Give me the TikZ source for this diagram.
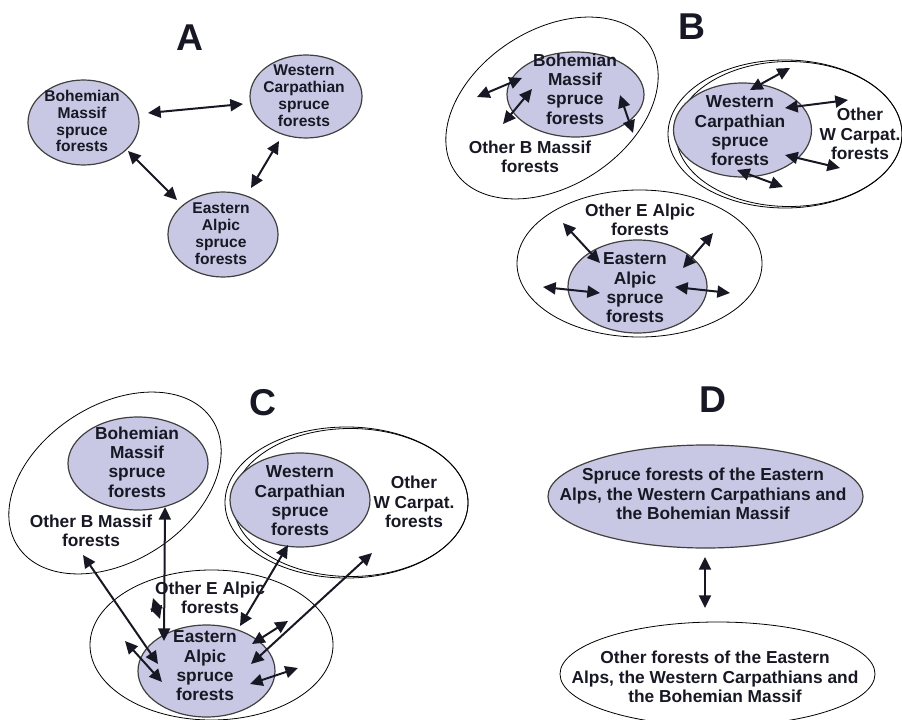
\documentclass[tikz,border=0pt]{standalone}
\usepackage{fontspec}
\setmainfont{Liberation Sans}
\usetikzlibrary{shapes.geometric,arrows.meta}
\definecolor{lav}{RGB}{200,200,228}
\definecolor{ink}{RGB}{24,24,36}
\begin{document}
\begin{tikzpicture}[x=0.75pt,y=-0.75pt,
  ell/.style 2 args={ellipse, minimum width=#1*1.5pt, minimum height=#2*1.5pt, inner sep=0pt, outer sep=0pt},
  outerell/.style={draw=black, line width=0.6pt},
  spruce/.style={draw=black!75, line width=0.9pt, fill=lav},
  lbl/.style={font=\fontsize{13}{14.5}\selectfont\bfseries, align=center, text=ink, inner sep=0pt},
  lblA/.style={font=\fontsize{11.7}{12.7}\selectfont\bfseries, align=center, text=ink, inner sep=0pt},
  title/.style={font=\fontsize{28}{30}\selectfont\bfseries, text=ink, inner sep=0pt},
  dbl/.style={{Triangle[length=9.5pt,width=9pt]}-{Triangle[length=9.5pt,width=9pt]}, line width=1.5pt, draw=ink}
]
\useasboundingbox (0,0) rectangle (902,720);

% ---------------- titles
\node[title] (tA) at (190,38) {A};
\node[title] (tB) at (692,27) {B};
\node[title] (tC) at (263,403) {C};
\node[title] (tD) at (713,400) {D};

% ---------------- panel A
\node[ell={55.5}{42.5}, spruce] (bA) at (83.5,122.5) {};
\node[ell={56}{41.5}, spruce] (wA) at (306,96.5) {};
\node[ell={55}{42.5}, spruce] (eA) at (223,234.5) {};
\node[lblA] (bAt) at (82,121) {Bohemian\\Massif\\spruce\\forests};
\node[lblA] (wAt) at (304,96) {Western\\Carpathian\\spruce\\forests};
\node[lblA] (eAt) at (221,234) {Eastern\\Alpic\\spruce\\forests};
\coordinate (a1) at (148,113); \coordinate (a2) at (243,104);
\coordinate (a3) at (128,151); \coordinate (a4) at (177,200);
\coordinate (a5) at (251,188); \coordinate (a6) at (279,141);
\draw[dbl] (a1) -- (a2);
\draw[dbl] (a3) -- (a4);
\draw[dbl] (a5) -- (a6);

% ---------------- panel B
\node[ell={116}{78}, outerell, rotate=33] (bBo) at (552,108) {};
\node[ell={117}{74}, outerell] (wBo) at (785,134) {};
\node[ell={113}{72.5}, outerell] (wBo2) at (789,134) {};
\node[ell={122.5}{73.5}, outerell] (eBo) at (639.5,263.5) {};
\node[ell={68.5}{42.5}, spruce] (bBi) at (575.5,94.5) {};
\node[ell={69}{47}, spruce] (wBi) at (742.5,130) {};
\node[ell={69.5}{46.5}, spruce] (eBi) at (637.5,286.5) {};
\node[lbl] (bBt) at (575,89) {Bohemian\\Massif\\spruce\\forests};
\node[lbl] (wBt) at (740,131) {Western\\Carpathian\\spruce\\forests};
\node[lbl] (eBt) at (635,288) {Eastern\\Alpic\\spruce\\forests};
\node[lbl] (bBot) at (530,157) {Other B Massif\\forests};
\node[lbl] (wBot) at (860,134) {Other\\W Carpat.\\forests};
\node[lbl] (eBot) at (640,220) {Other E Alpic\\forests};
\coordinate (b1) at (477,97);  \coordinate (b2) at (522,78);
\coordinate (b3) at (503,124); \coordinate (b4) at (532,89);
\coordinate (b5) at (620,95);  \coordinate (b6) at (633,133);
\coordinate (b7) at (750,90);  \coordinate (b8) at (790,68);
\coordinate (b9) at (785,108); \coordinate (b10) at (848,100);
\coordinate (b11) at (785,155); \coordinate (b12) at (840,168);
\coordinate (b13) at (737,170); \coordinate (b14) at (783,187);
\coordinate (b15) at (563,223); \coordinate (b16) at (600,263);
\coordinate (b17) at (683,268); \coordinate (b18) at (713,233);
\coordinate (b19) at (543,287); \coordinate (b20) at (600,293);
\coordinate (b21) at (675,287); \coordinate (b22) at (730,293);
\foreach \s/\e in {b1/b2,b3/b4,b5/b6,b7/b8,b9/b10,b11/b12,b13/b14,b15/b16,b17/b18,b19/b20,b21/b22}
  \draw[dbl] (\s) -- (\e);

% ---------------- panel C
\node[ell={116}{78}, outerell, rotate=33] (bCo) at (115,483) {};
\node[ell={121.5}{75.5}, outerell] (wCo) at (346.5,502.5) {};
\node[ell={117.5}{74}, outerell] (wCo2) at (350.5,502.5) {};
\node[ell={121.5}{75}, outerell] (eCo) at (211.5,645) {};
\node[ell={70}{46.5}, spruce] (bCi) at (138,463.5) {};
\node[ell={70}{47}, spruce] (wCi) at (300,500) {};
\node[ell={68.5}{46}, spruce] (eCi) at (206.5,671) {};
\node[lbl] (bCt) at (137,462) {Bohemian\\Massif\\spruce\\forests};
\node[lbl] (wCt) at (300,501) {Western\\Carpathian\\spruce\\forests};
\node[lbl] (eCt) at (205,666) {Eastern\\Alpic\\spruce\\forests};
\node[lbl] (bCot) at (91,531) {Other B Massif\\forests};
\node[lbl] (wCot) at (414,502) {Other\\W Carpat.\\forests};
\node[lbl] (eCot) at (210,598) {Other E Alpic\\forests};
\coordinate (c1) at (165,507);  \coordinate (c2) at (164,641);
\coordinate (c3) at (83,555);   \coordinate (c4) at (158,664);
\coordinate (c5) at (125,641);  \coordinate (c6) at (162,682);
\coordinate (c7) at (153,598);  \coordinate (c8) at (160,619);
\coordinate (c9) at (288,545);  \coordinate (c10) at (240,626);
\coordinate (c11) at (372,553); \coordinate (c12) at (251,664);
\coordinate (c13) at (252,644); \coordinate (c14) at (288,621);
\coordinate (c15) at (250,684); \coordinate (c16) at (298,668);
\foreach \s/\e in {c1/c2,c3/c4,c5/c6,c7/c8,c9/c10,c11/c12,c13/c14,c15/c16}
  \draw[dbl] (\s) -- (\e);

% ---------------- panel D
\node[ell={157.5}{51.5}, spruce] (sD) at (705.5,496.5) {};
\node[ell={157.5}{52}, outerell] (oD) at (717.5,674) {};
\node[lbl] (sDt) at (703,494) {Spruce forests of the Eastern\\Alps, the Western Carpathians and\\the Bohemian Massif};
\node[lbl] (oDt) at (715,677) {Other forests of the Eastern\\Alps, the Western Carpathians and\\the Bohemian Massif};
\coordinate (d1) at (705,557); \coordinate (d2) at (705,608);
\draw[dbl] (d1) -- (d2);
\end{tikzpicture}
\end{document}
